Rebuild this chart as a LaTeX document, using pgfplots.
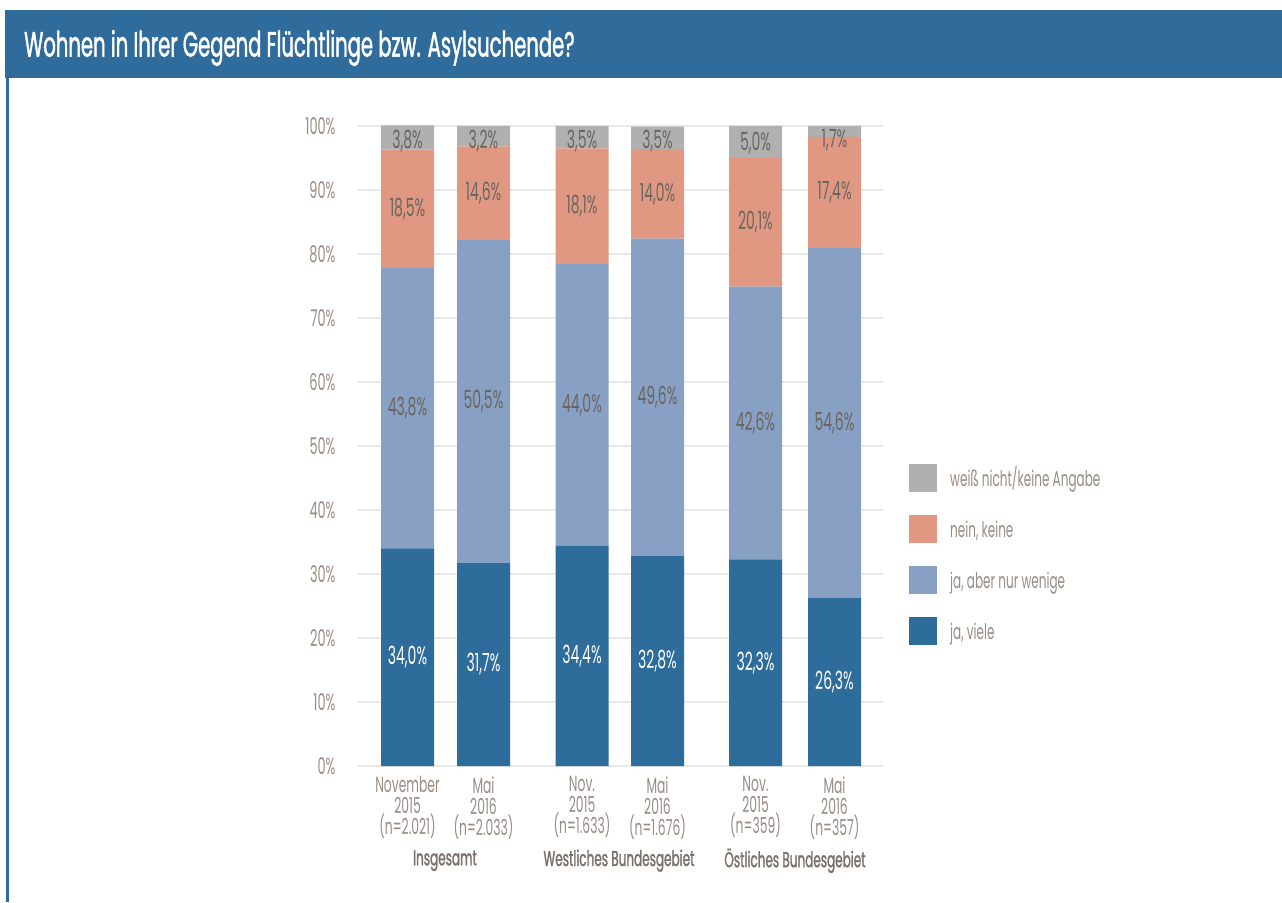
\documentclass[border=0pt]{standalone}
\usepackage{fontspec}
\setmainfont{Poppins}[FakeStretch=0.56]
\newfontfamily\medfont{Poppins}[FakeStretch=0.56, FakeBold=1.2]
\usepackage{pgfplots}
\pgfplotsset{compat=1.18}
\definecolor{dblue}{HTML}{2E6C9C}
\definecolor{lblue}{HTML}{87A0C4}
\definecolor{salmon}{HTML}{E09882}
\definecolor{grayseg}{HTML}{B0B0B0}
\definecolor{taupe}{HTML}{988D85}
\definecolor{darktxt}{HTML}{6B6560}
\definecolor{gridc}{HTML}{E8E8E8}
\definecolor{barblue}{HTML}{306C9B}

\pgfplotstableread{
x     dark  light nein  wn
407.5 34.0  43.8  18.5  3.8
483.5 31.7  50.5  14.6  3.2
582   34.4  44.0  18.1  3.5
657.5 32.8  49.6  14.0  3.5
755.5 32.3  42.6  20.1  5.0
834.5 26.3  54.6  17.4  1.7
}\datatable

\pgfplotstableread{
x     y      lab
407.5 17.0   34,0
483.5 15.85  31,7
582   17.2   34,4
657.5 16.4   32,8
755.5 16.15  32,3
834.5 13.15  26,3
}\whitelabels

\pgfplotstableread{
x     y      lab
407.5 55.9   43,8
483.5 56.95  50,5
582   56.4   44,0
657.5 57.6   49,6
755.5 53.6   42,6
834.5 53.6   54,6
407.5 87.05  18,5
483.5 89.5   14,6
582   87.45  18,1
657.5 89.4   14,0
755.5 84.95  20,1
834.5 89.6   17,4
407.5 97.6   3,8
483.5 97.7   3,2
582   97.6   3,5
657.5 97.6   3,5
755.5 97.3   5,0
834.5 97.8   1,7
}\darklabels

\begin{document}
\begin{tikzpicture}[x=1pt,y=1pt]
\fill[white] (0,0) rectangle (1282,902);
\fill[barblue] (5,824) rectangle (1282,892);
\fill[barblue] (6,0) rectangle (9,824);
\node[anchor=west, text=white, inner sep=0pt, font=\medfont\fontsize{35}{40}\selectfont] at (24,854) {Wohnen in Ihrer Gegend Flüchtlinge bzw. Asylsuchende?};

\begin{axis}[
  at={(358pt,136pt)}, anchor=south west,
  width=525pt, height=640pt, scale only axis,
  xmin=358, xmax=883, ymin=0, ymax=100,
  ybar stacked, bar width=53,
  axis line style={draw=none},
  tick style={draw=none},
  ytick={0,10,...,100},
  yticklabel={\pgfmathprintnumber{\tick}\%},
  yticklabel style={text=taupe, font=\fontsize{23}{26}\selectfont, xshift=-19pt},
  ymajorgrids, grid style={gridc, line width=1.5pt},
  xtick={407.5,483.5,582,657.5,755.5,834.5},
  xticklabels={{November\\2015\\(n=2.021)},{Mai\\2016\\(n=2.033)},{Nov.\\2015\\(n=1.633)},{Mai\\2016\\(n=1.676)},{Nov.\\2015\\(n=359)},{Mai\\2016\\(n=357)}},
  xticklabel style={align=center, text=taupe, font=\fontsize{22}{21}\selectfont, yshift=-7pt},
  /pgf/number format/assume math mode=true,
  clip=false,
  reverse legend,
  legend image code/.code={\fill[#1] (0pt,-6pt) rectangle (28pt,22pt);},
  legend style={at={(axis cs:906,47.5)}, anchor=north west, draw=none, fill=none,
    font=\fontsize{21.5}{24}\selectfont, text=taupe, row sep=23pt,
    nodes={inner sep=0pt, anchor=base west}, column sep=13pt},
  legend cell align=left,
]
\addplot[fill=dblue, draw=none] table[x=x, y=dark] {\datatable};
\addlegendentry{ja, viele}
\addplot[fill=lblue, draw=none] table[x=x, y=light] {\datatable};
\addlegendentry{ja, aber nur wenige}
\addplot[fill=salmon, draw=none] table[x=x, y=nein] {\datatable};
\addlegendentry{nein, keine}
\addplot[fill=grayseg, draw=none] table[x=x, y=wn] {\datatable};
\addlegendentry{weiß nicht/keine Angabe}

\node[text=taupe!80!black, font=\medfont\fontsize{21.5}{24}\selectfont] at (axis cs:445,-14.8) {Insgesamt};
\node[text=taupe!80!black, font=\medfont\fontsize{21.5}{24}\selectfont] at (axis cs:619,-14.8) {Westliches Bundesgebiet};
\node[text=taupe!80!black, font=\medfont\fontsize{21.5}{24}\selectfont] at (axis cs:795,-14.8) {Östliches Bundesgebiet};
\end{axis}

\begin{axis}[
  at={(358pt,136pt)}, anchor=south west,
  width=525pt, height=640pt, scale only axis,
  xmin=358, xmax=883, ymin=0, ymax=100,
  hide axis, clip=false,
]
\addplot[only marks, mark=none, nodes near coords={\pgfplotspointmeta\%},
  point meta=explicit symbolic,
  every node near coord/.style={anchor=center, text=white, font=\fontsize{25}{28}\selectfont}]
  table[x=x, y=y, meta=lab] {\whitelabels};
\addplot[only marks, mark=none, nodes near coords={\pgfplotspointmeta\%},
  point meta=explicit symbolic,
  every node near coord/.style={anchor=center, text=darktxt, font=\fontsize{25}{28}\selectfont}]
  table[x=x, y=y, meta=lab] {\darklabels};
\end{axis}
\end{tikzpicture}
\end{document}
